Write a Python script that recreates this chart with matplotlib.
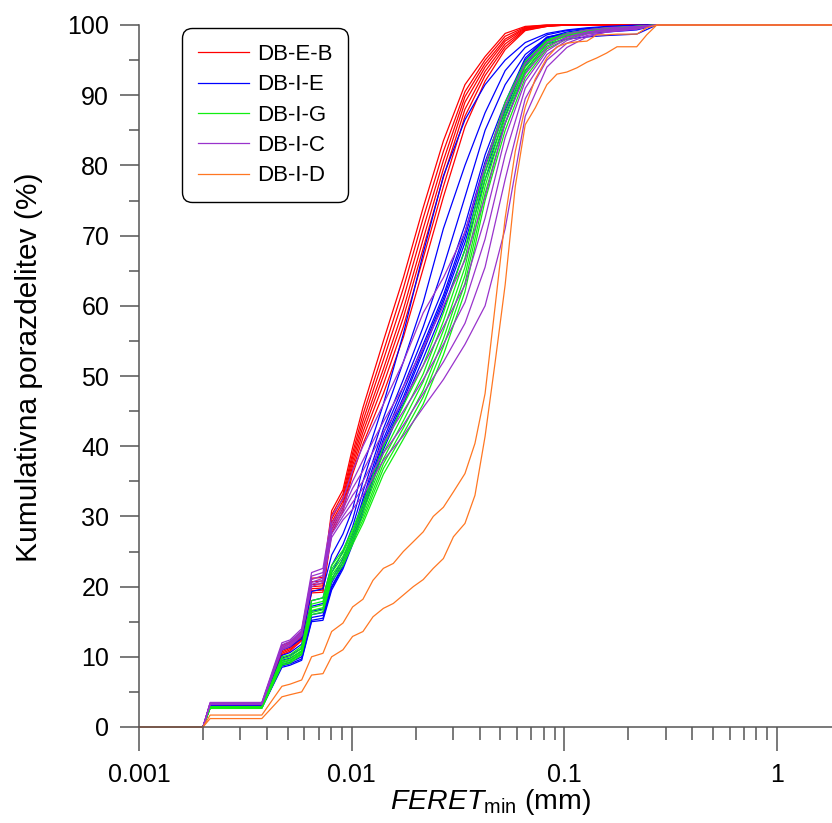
import matplotlib
matplotlib.use('Agg')
import matplotlib.pyplot as plt
from matplotlib.ticker import FixedLocator, NullFormatter

plt.rcParams['font.family'] = 'Liberation Sans'
plt.rcParams['mathtext.fontset'] = 'custom'
plt.rcParams['mathtext.rm'] = 'Liberation Sans'
plt.rcParams['mathtext.it'] = 'Liberation Sans:italic'

# size classes (mm) used for the first four sample sets
x = [0.001, 0.002, 0.00216, 0.00378, 0.0047, 0.00513, 0.00582, 0.00648, 0.00733, 0.00805,
     0.0091, 0.0101, 0.0113, 0.0141, 0.0175, 0.0217, 0.027, 0.0341, 0.0424, 0.0527,
     0.0655, 0.0828, 0.1028, 0.1277, 0.158, 0.219, 0.272, 2.0]

# DB-E-B
red = [
    [0, 0, 3.3, 3.3, 11.6, 12.1, 13.6, 21.2, 21.3, 30.8, 33.8, 39.8, 45.5, 55.0, 64.0, 74.0, 83.5, 91.5, 95.5, 98.8, 99.8, 100, 100, 100, 100, 100, 100, 100],
    [0, 0, 3.25, 3.25, 11.3, 11.9, 13.3, 20.7, 20.8, 30.2, 33.2, 39.0, 44.5, 53.5, 62.5, 72.5, 82.0, 90.5, 95.0, 98.4, 99.7, 100, 100, 100, 100, 100, 100, 100],
    [0, 0, 3.2, 3.2, 11.1, 11.6, 13.1, 20.3, 20.4, 29.6, 32.7, 38.4, 43.6, 52.3, 61.0, 71.0, 80.7, 89.8, 94.5, 98.0, 99.6, 99.9, 100, 100, 100, 100, 100, 100],
    [0, 0, 3.15, 3.15, 10.9, 11.4, 12.9, 20.0, 20.1, 29.1, 32.2, 37.8, 42.8, 51.0, 59.5, 69.5, 79.5, 89.0, 94.0, 97.7, 99.5, 99.9, 100, 100, 100, 100, 100, 100],
    [0, 0, 3.1, 3.1, 10.7, 11.2, 12.7, 19.7, 19.8, 28.6, 31.7, 37.2, 42.0, 50.0, 58.3, 68.2, 78.3, 88.0, 93.4, 97.3, 99.4, 99.9, 100, 100, 100, 100, 100, 100],
    [0, 0, 3.05, 3.05, 10.5, 11.0, 12.5, 19.4, 19.5, 28.1, 31.2, 36.6, 41.2, 48.8, 57.0, 66.8, 77.0, 87.0, 92.8, 96.9, 99.3, 99.8, 100, 100, 100, 100, 100, 100],
    [0, 0, 3.0, 3.0, 10.3, 10.8, 12.3, 19.1, 19.2, 27.6, 30.7, 36.0, 40.3, 47.5, 55.5, 65.3, 75.5, 85.5, 92.0, 96.5, 99.2, 99.8, 100, 100, 100, 100, 100, 100],
]

# DB-I-E
blue = [
    [0, 0, 3.3, 3.3, 11.0, 11.4, 12.6, 19.3, 19.7, 24.5, 27.5, 31.0, 37.0, 46.0, 56.0, 67.5, 78.5, 86.5, 91.5, 95.0, 97.5, 98.8, 99.3, 99.6, 99.8, 100, 100, 100],
    [0, 0, 3.1, 3.1, 10.2, 10.6, 11.8, 18.0, 18.4, 23.0, 26.0, 29.5, 35.0, 44.0, 52.0, 60.5, 71.0, 80.0, 87.5, 93.5, 96.8, 98.6, 99.2, 99.5, 99.7, 99.9, 100, 100],
    [0, 0, 3.0, 3.0, 9.8, 10.2, 11.2, 17.2, 17.6, 22.0, 25.0, 28.5, 33.5, 42.5, 49.5, 57.0, 65.5, 75.5, 85.0, 91.5, 95.8, 98.2, 99.0, 99.4, 99.6, 99.8, 100, 100],
    [0, 0, 2.9, 2.9, 9.5, 9.8, 10.8, 16.5, 16.8, 21.0, 24.0, 27.5, 32.5, 41.8, 48.5, 55.5, 62.5, 71.5, 81.5, 89.0, 95.3, 98.3, 98.8, 99.2, 99.5, 99.7, 100, 100],
    [0, 0, 2.85, 2.85, 9.2, 9.5, 10.4, 16.0, 16.3, 20.5, 23.5, 27.0, 32.0, 41.0, 47.8, 54.5, 61.5, 70.5, 80.5, 88.3, 95.0, 98.2, 98.7, 99.1, 99.4, 99.6, 100, 100],
    [0, 0, 2.8, 2.8, 8.9, 9.2, 10.0, 15.6, 15.9, 20.0, 23.0, 26.5, 31.5, 40.5, 47.0, 54.0, 61.0, 69.8, 79.8, 87.8, 94.6, 98.0, 98.6, 99.0, 99.3, 99.5, 100, 100],
    [0, 0, 2.75, 2.75, 8.7, 9.0, 9.7, 15.2, 15.5, 19.8, 22.8, 26.3, 31.0, 40.0, 46.5, 53.5, 60.5, 69.0, 79.0, 87.0, 94.2, 97.8, 98.4, 98.8, 99.0, 99.3, 100, 100],
    [0, 0, 2.7, 2.7, 8.5, 8.8, 9.5, 15.0, 15.2, 19.5, 22.5, 26.0, 30.5, 39.5, 46.0, 52.5, 59.5, 68.0, 78.0, 86.0, 93.5, 97.3, 98.0, 98.3, 98.5, 98.7, 100, 100],
]

# DB-I-G
green = [
    [0, 0, 2.9, 2.9, 10.0, 10.3, 11.5, 18.0, 18.4, 23.0, 25.2, 28.2, 31.8, 40.0, 45.8, 51.5, 59.0, 68.0, 80.0, 89.0, 94.8, 97.9, 98.8, 99.3, 99.6, 99.8, 100, 100],
    [0, 0, 2.85, 2.85, 9.7, 10.0, 11.2, 17.5, 17.9, 22.5, 24.8, 27.8, 31.2, 39.0, 44.6, 50.3, 57.8, 66.8, 79.0, 88.3, 94.4, 97.7, 98.7, 99.2, 99.5, 99.8, 100, 100],
    [0, 0, 2.8, 2.8, 9.4, 9.7, 10.9, 17.0, 17.4, 22.0, 24.3, 27.3, 30.6, 38.2, 43.6, 49.2, 56.5, 65.5, 78.0, 87.5, 94.0, 97.5, 98.6, 99.2, 99.5, 99.8, 100, 100],
    [0, 0, 2.75, 2.75, 9.2, 9.5, 10.7, 16.6, 17.0, 21.6, 23.8, 26.8, 30.0, 37.5, 42.6, 48.0, 55.3, 64.3, 77.0, 86.8, 93.6, 97.3, 98.5, 99.1, 99.4, 99.7, 100, 100],
    [0, 0, 2.7, 2.7, 9.0, 9.3, 10.5, 16.3, 16.7, 21.2, 23.4, 26.4, 29.5, 36.8, 41.8, 47.0, 54.2, 63.2, 76.0, 86.0, 93.2, 97.0, 98.3, 99.0, 99.3, 99.6, 100, 100],
    [0, 0, 2.65, 2.65, 8.8, 9.1, 10.3, 16.0, 16.4, 20.8, 23.0, 26.0, 29.0, 36.0, 41.0, 46.0, 53.0, 62.0, 75.0, 85.0, 92.5, 96.6, 98.0, 98.8, 99.2, 99.5, 100, 100],
]

# DB-I-C
purple = [
    [0, 0, 3.5, 3.5, 12.0, 12.4, 14.0, 22.0, 22.6, 30.0, 32.5, 36.5, 40.0, 46.0, 52.0, 59.0, 64.0, 70.5, 80.0, 88.5, 94.5, 97.5, 98.7, 99.3, 99.6, 99.8, 100, 100],
    [0, 0, 3.4, 3.4, 11.7, 12.2, 13.7, 21.5, 22.0, 29.0, 31.5, 35.0, 38.0, 43.5, 48.5, 54.0, 60.0, 66.5, 75.5, 86.0, 93.0, 96.8, 98.3, 99.0, 99.4, 99.7, 100, 100],
    [0, 0, 3.35, 3.35, 11.5, 12.0, 13.5, 21.0, 21.6, 28.5, 31.0, 34.0, 36.5, 42.0, 46.5, 51.5, 57.0, 63.0, 72.5, 84.0, 92.0, 96.3, 98.1, 98.9, 99.3, 99.6, 100, 100],
    [0, 0, 3.3, 3.3, 11.3, 11.8, 13.3, 20.6, 21.2, 28.0, 30.5, 33.0, 35.0, 40.5, 45.0, 49.5, 54.5, 60.5, 69.5, 81.5, 91.0, 95.8, 97.8, 98.7, 99.2, 99.5, 100, 100],
    [0, 0, 3.25, 3.25, 11.1, 11.6, 13.1, 20.3, 20.9, 27.5, 30.0, 32.0, 34.0, 39.0, 43.0, 47.5, 52.0, 57.5, 65.5, 78.0, 89.5, 95.0, 97.4, 98.5, 99.0, 99.4, 100, 100],
    [0, 0, 3.2, 3.2, 11.0, 11.5, 13.0, 20.0, 20.6, 27.0, 29.5, 31.0, 33.0, 38.0, 41.5, 45.5, 49.5, 54.5, 60.0, 71.0, 87.0, 94.0, 96.8, 98.3, 99.0, 99.5, 100, 100],
]

# DB-I-D has its own (finer) size classes
x_d = [0.001, 0.002, 0.00216, 0.00378, 0.0047, 0.00513, 0.00582, 0.00648, 0.00733, 0.00805,
       0.0091, 0.0101, 0.0113, 0.0126, 0.0141, 0.0157, 0.0175, 0.0195, 0.0217, 0.0242,
       0.027, 0.0301, 0.0341, 0.038, 0.0424, 0.0473, 0.0527, 0.0588, 0.0655, 0.073,
       0.0828, 0.0923, 0.1028, 0.1146, 0.1277, 0.142, 0.158, 0.177, 0.219, 0.244, 0.272, 2.0]
orange = [
    [0, 0, 1.7, 1.7, 5.8, 6.1, 6.7, 10.0, 10.5, 13.6, 14.8, 17.1, 18.2, 20.9, 22.6, 23.3, 25.0, 26.4, 27.8, 30.0, 31.3,
     33.5, 36.1, 40.4, 47.5, 60.0, 72.5, 82.0, 88.3, 92.3, 95.3, 96.9, 97.4, 97.6, 97.7, 98.6, 98.6, 98.7, 98.7, 99.6, 100, 100],
    [0, 0, 1.2, 1.2, 4.3, 4.6, 5.0, 7.4, 7.6, 10.0, 11.0, 12.9, 13.6, 15.7, 16.9, 17.6, 18.8, 20.0, 21.0, 22.6, 24.0,
     27.1, 29.0, 33.0, 41.4, 52.0, 63.0, 77.0, 85.8, 88.2, 91.5, 93.0, 93.3, 93.9, 94.7, 95.3, 96.0, 96.9, 96.9, 98.6, 100, 100],
]

labels = ['DB-E-B', 'DB-I-E', 'DB-I-G', 'DB-I-C', 'DB-I-D']
colors = ['#ff0000', '#0000ff', '#11ee11', '#9933cc', '#ff7722']

fig = plt.figure(figsize=(8.32, 8.23), dpi=100)
ax = fig.add_axes([139/832., 96/823., 702/832., 702/823.])

sets = [(x, red), (x, blue), (x, green), (x, purple), (x_d, orange)]
for k in range(len(sets)):
    xs, curves = sets[k]
    for i in range(len(curves)):
        if i == 0:
            ax.plot(xs, curves[i], color=colors[k], lw=0.9, label=labels[k], clip_on=False)
        else:
            ax.plot(xs, curves[i], color=colors[k], lw=0.9, clip_on=False)

ax.set_xscale('log')
ax.set_xlim(0.001, 2.0)
ax.set_ylim(0, 100)

ax.spines['top'].set_visible(False)
ax.spines['right'].set_visible(False)
ax.spines['left'].set_color('#555555')
ax.spines['bottom'].set_color('#555555')
ax.spines['left'].set_linewidth(1.1)
ax.spines['bottom'].set_linewidth(1.1)

ax.xaxis.set_major_locator(FixedLocator([0.001, 0.01, 0.1, 1]))
ax.set_xticklabels(['0.001', '0.01', '0.1', '1'])
minors = []
for dec in [0.001, 0.01, 0.1, 1]:
    for m in range(2, 10):
        minors.append(dec * m)
ax.xaxis.set_minor_locator(FixedLocator(minors))
ax.xaxis.set_minor_formatter(NullFormatter())
ax.yaxis.set_major_locator(FixedLocator(range(0, 101, 10)))
ax.yaxis.set_minor_locator(FixedLocator(range(5, 100, 10)))

ax.tick_params(axis='x', which='major', direction='out', length=17, width=1.1, color='#555555', pad=9, labelsize=18)
ax.tick_params(axis='x', which='minor', direction='out', length=9.5, width=1.1, color='#555555')
ax.tick_params(axis='y', which='major', direction='out', length=13.5, width=1.1, color='#555555', pad=8, labelsize=18)
ax.tick_params(axis='y', which='minor', direction='out', length=7, width=1.1, color='#555555')

ax.set_xlabel(r'$FERET_{\rm min}$ (mm)', fontsize=20.5, labelpad=0)
ax.set_ylabel('Kumulativna porazdelitev (%)', fontsize=21.5)
ax.yaxis.set_label_coords(-0.137, 0.513)

leg = ax.legend(loc='upper left', bbox_to_anchor=(43/702., 699/702.), borderaxespad=0,
                fontsize=16, handlelength=2.3, handletextpad=0.35, labelspacing=0.42,
                borderpad=0.72, fancybox=True, framealpha=1)
leg.get_frame().set_edgecolor('black')
leg.get_frame().set_linewidth(1.0)
leg.get_frame().set_boxstyle('round,pad=0,rounding_size=0.45')

plt.savefig('out.png', dpi=100)
